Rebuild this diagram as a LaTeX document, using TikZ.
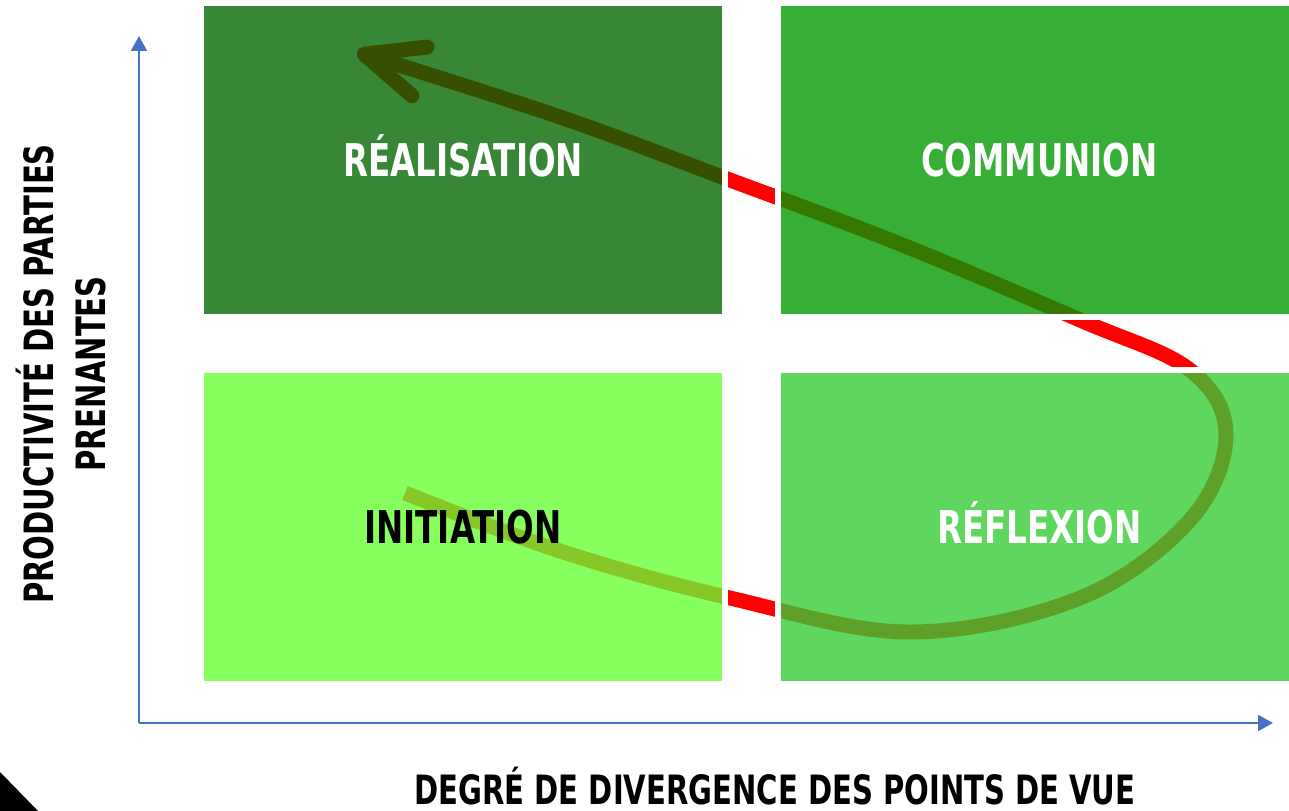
\documentclass[tikz,border=0pt]{standalone}
\usepackage{fontspec}
\usetikzlibrary{arrows.meta}
\newfontfamily\quadfont{DejaVu Sans Condensed}[FakeStretch=0.8]
\definecolor{axisblue}{HTML}{4472C4}
\definecolor{realcol}{HTML}{006600}
\definecolor{commcol}{HTML}{009900}
\definecolor{initcol}{HTML}{66FF33}
\definecolor{reflcol}{HTML}{33CC33}
\tikzset{
  quad/.style={inner sep=0pt, minimum height=6.16cm, fill opacity=0.785, text opacity=1,
    text height=18.7pt, text depth=0pt,
    font=\quadfont\bfseries\fontsize{25.7}{30}\selectfont},
  axislabel/.style={inner sep=0pt, align=center, font=\quadfont\bfseries\fontsize{23}{30}\selectfont},
  axis/.style={draw=axisblue, line width=1.3pt, -{Triangle[length=8.5pt,width=9pt]}},
  spiral/.style={draw=red, line width=8.5pt, -{Straight Barb[length=33pt,width=29pt,round]}},
  gapline/.style={draw=white, line width=0.12cm}
}
\begin{document}
\begin{tikzpicture}[x=0.02cm, y=-0.02cm]
  \useasboundingbox (0,0) rectangle (1289,811);
  % corner mark
  \fill (0,772) -- (38,811) -- (0,811) -- cycle;
  % axes
  \coordinate (origin) at (139,723);
  \coordinate (ytip) at (139,36);
  \coordinate (xtip) at (1273,723);
  \draw[axis] (origin) -- (ytip);
  \draw[axis] (origin) -- (xtip);
  % cycle, drawn below the quadrants
  \draw[spiral] plot[smooth, tension=0.6] coordinates {(405,493) (560,551) (730,598) (910,632)
    (1080,598) (1190,520) (1226,435) (1190,370) (1080,320) (900,244) (730,180) (560,117) (357,52)};
  % quadrants
  \node[quad, minimum width=10.36cm, fill=realcol, text=white] (realisation) at (463,160) {RÉALISATION};
  \node[quad, minimum width=10.16cm, fill=commcol, text=white] (communion) at (1035,160) {\hspace*{5pt}COMMUNION};
  \node[quad, minimum width=10.36cm, fill=initcol, text=black] (initiation) at (463,527) {INITIATION};
  \node[quad, minimum width=10.16cm, fill=reflcol, text=white] (reflexion) at (1035,527) {\hspace*{5pt}RÉFLEXION};
  % white margin round each quadrant
  \foreach \q in {realisation,communion,initiation,reflexion}
    \draw[gapline] ([shift={(-3,-3)}]\q.north west) rectangle ([shift={(3,3)}]\q.south east);
  % axis labels
  \node[axislabel, rotate=90] (ylabel) at (61,374) {PRODUCTIVITÉ DES PARTIES\\PRENANTES};
  \node[axislabel] (xlabel) at (775,786) {DEGRÉ DE DIVERGENCE DES POINTS DE VUE};
\end{tikzpicture}
\end{document}
